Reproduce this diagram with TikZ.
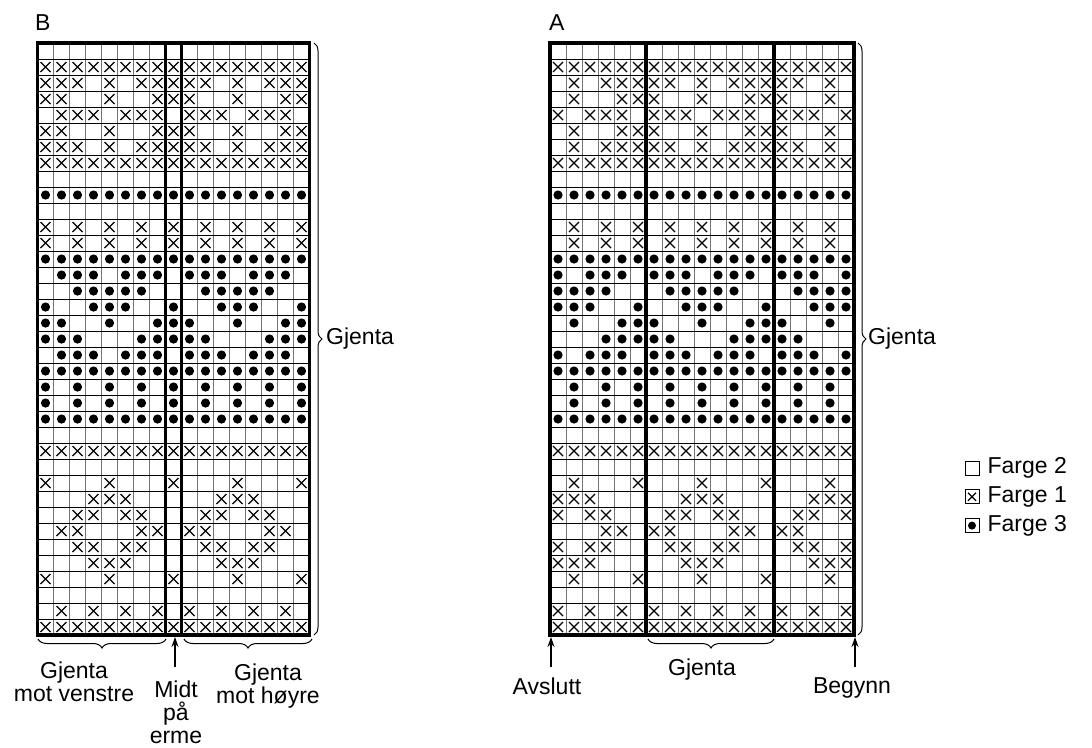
\documentclass[tikz,border=0pt]{standalone}
\usepackage{fontspec}
\setmainfont{Liberation Sans}
\usetikzlibrary{positioning,decorations.pathreplacing,arrows.meta}

% one line per round, repeat of 8 stitches (x = Farge 1, o = Farge 3, - = Farge 2)
\def\moenster{%
{-,-,-,-,-,-,-,-},{x,x,x,x,x,x,x,x},{x,x,x,-,x,-,x,x},{x,x,-,-,x,-,-,x},%
{-,x,x,x,-,x,x,x},{x,x,-,-,x,-,-,x},{x,x,x,-,x,-,x,x},{x,x,x,x,x,x,x,x},%
{-,-,-,-,-,-,-,-},{o,o,o,o,o,o,o,o},{-,-,-,-,-,-,-,-},{x,-,x,-,x,-,x,-},%
{x,-,x,-,x,-,x,-},{o,o,o,o,o,o,o,o},{-,o,o,o,-,o,o,o},{-,-,o,o,o,o,o,-},%
{o,-,-,o,o,o,-,-},{o,o,-,-,o,-,-,o},{o,o,o,-,-,-,o,o},{-,o,o,o,-,o,o,o},%
{o,o,o,o,o,o,o,o},{o,-,o,-,o,-,o,-},{o,-,o,-,o,-,o,-},{o,o,o,o,o,o,o,o},%
{-,-,-,-,-,-,-,-},{x,x,x,x,x,x,x,x},{-,-,-,-,-,-,-,-},{x,-,-,-,x,-,-,-},%
{-,-,-,x,x,x,-,-},{-,-,x,x,-,x,x,-},{-,x,x,-,-,-,x,x},{-,-,x,x,-,x,x,-},%
{-,-,-,x,x,x,-,-},{x,-,-,-,x,-,-,-},{-,-,-,-,-,-,-,-},{-,x,-,x,-,x,-,x},%
{x,x,x,x,x,x,x,x}}

% symbol in cell (column #2, row #3)
\newcommand{\maske}[3]{%
  \if x#1\draw[kryss] ({#2*16-13},{#3*16-13}) -- ++(10,10) ({#2*16-13},{#3*16-3}) -- ++(10,-10);\fi
  \if o#1\fill ({#2*16-8},{#3*16-8}) circle[radius=4.6pt];\fi}

\begin{document}
\begin{tikzpicture}[x=1pt, y=-1pt,
    tekst/.style={font=\fontsize{23}{23}\selectfont, align=center, inner sep=0pt},
    vlinje/.style={line width=0.9pt, black!55},
    hlinje/.style={line width=0.9pt, black},
    tykk/.style={line width=3.2pt},
    kryss/.style={line width=1.2pt},
    klamme/.style={decorate, decoration={brace, amplitude=9pt}, line width=1pt},
    pil/.style={-{Stealth[length=10pt, width=7pt]}, line width=1.4pt},
    rute/.style={draw, line width=0.8pt, minimum size=14pt, inner sep=0pt}]
\useasboundingbox (0,0) rectangle (1092,747);

% diagram B
\begin{scope}[shift={(37.5,43)}]
  \foreach \x in {0,...,17} \draw[vlinje] (\x*16,0) -- (\x*16,592);
  \foreach \y in {0,...,37} \draw[hlinje] (0,\y*16) -- (272,\y*16);
  \foreach \rad [count=\r] in \moenster
    \foreach \tegn [count=\k] in \rad
      \foreach \m in {0,1,2} {
        \pgfmathtruncatemacro\kol{\k+8*\m}
        \ifnum\kol<18 \maske{\tegn}{\kol}{\r}\fi
      }
  \draw[tykk] (0,0) rectangle (272,592) (128,0) -- (128,592) (144,0) -- (144,592);
\end{scope}

% diagram A
\begin{scope}[shift={(550,43)}]
  \foreach \x in {0,...,19} \draw[vlinje] (\x*16,0) -- (\x*16,592);
  \foreach \y in {0,...,37} \draw[hlinje] (0,\y*16) -- (304,\y*16);
  \foreach \rad [count=\r] in \moenster
    \foreach \tegn [count=\k] in \rad
      \foreach \m in {0,1,2,3} {
        \pgfmathtruncatemacro\kol{\k-3+8*\m}
        \ifnum\kol>0 \ifnum\kol<20 \maske{\tegn}{\kol}{\r}\fi\fi
      }
  \draw[tykk] (0,0) rectangle (304,592) (96,0) -- (96,592) (224,0) -- (224,592);
\end{scope}

\node[tekst, anchor=west] (lb) at (35,23) {B};
\node[tekst, anchor=west] (la) at (549,23) {A};

% braces
\coordinate (bv0) at (38,639);  \coordinate (bv1) at (166,639);
\coordinate (bh0) at (184,639); \coordinate (bh1) at (312,639);
\coordinate (bs0) at (314,43);  \coordinate (bs1) at (314,635);
\coordinate (ag0) at (648,639); \coordinate (ag1) at (774,639);
\coordinate (as0) at (858,43);  \coordinate (as1) at (858,635);
\draw[klamme] (bv1) -- (bv0);
\draw[klamme] (bh1) -- (bh0);
\draw[klamme, decoration={amplitude=8pt}] (bs0) -- (bs1);
\draw[klamme] (ag1) -- (ag0);
\draw[klamme, decoration={amplitude=8pt}] (as0) -- (as1);

% arrows
\coordinate (pm0) at (175,667); \coordinate (pm1) at (175,637);
\coordinate (pa0) at (551,667); \coordinate (pa1) at (551,637);
\coordinate (pb0) at (855,667); \coordinate (pb1) at (855,637);
\draw[pil] (pm0) -- (pm1);
\draw[pil] (pa0) -- (pa1);
\draw[pil] (pb0) -- (pb1);

\node[tekst] (gv) at (74,682) {Gjenta\\mot venstre};
\node[tekst] (midt) at (176,712) {Midt\\på\\erme};
\node[tekst] (gh) at (268,686) {Gjenta\\mot høyre};
\node[tekst, anchor=west] (gb) at (326,339) {Gjenta};
\node[tekst, anchor=west] (ga) at (868,339) {Gjenta};
\node[tekst] (gja) at (702,670) {Gjenta};
\node[tekst] (avs) at (547,686) {Avslutt};
\node[tekst] (beg) at (852,688) {Begynn};

% legend
\node[rute] (f2) at (972,468) {};
\node[rute, below=14pt of f2] (f1) {};
\node[rute, below=14pt of f1] (f3) {};
\draw[kryss] ([shift={(-4,-4)}]f1.center) -- ([shift={(4,4)}]f1.center)
  ([shift={(-4,4)}]f1.center) -- ([shift={(4,-4)}]f1.center);
\fill (f3.center) circle[radius=4pt];
\node[tekst, right=8pt of f2] (t2) {Farge 2};
\node[tekst, right=8pt of f1] (t1) {Farge 1};
\node[tekst, right=8pt of f3] (t3) {Farge 3};
\end{tikzpicture}
\end{document}
